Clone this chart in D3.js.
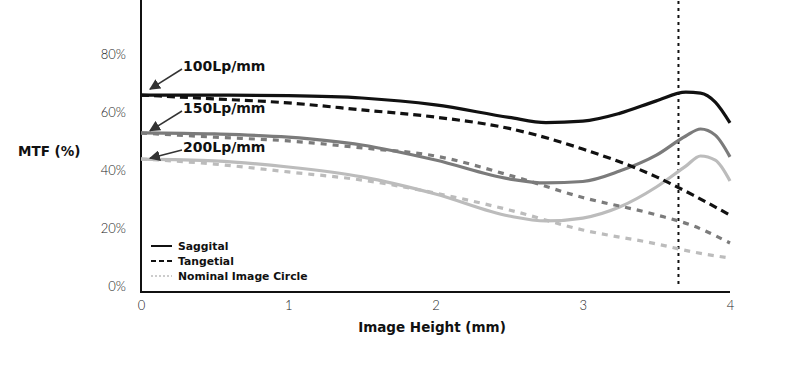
<!DOCTYPE html>
<html>
<head>
<meta charset="utf-8">
<script src="https://cdn.jsdelivr.net/npm/d3@7"></script>
<style>
body{margin:0;background:#fff;}
svg{display:block;font-family:'DejaVu Sans',sans-serif;}
</style>
</head>
<body>
<div class="canvas"></div>
<script>
var width = 800, height = 375;

// data (MTF in %, image height in mm)
var sagX = [0, 0.5, 1, 1.5, 2, 2.5, 2.75, 3, 3.25, 3.5, 3.7, 3.8, 3.9, 4];
var sag100 = [67.9, 67.9, 67.7, 66.9, 64.5, 60.2, 58.4, 58.9, 61.6, 65.9, 68.9, 68.6, 65.5, 58.3];
var sag150 = [54.9, 54.5, 53.4, 50.7, 45.5, 39.0, 37.6, 38.1, 41.7, 47.2, 53.8, 56.2, 54.1, 46.6];
var sag200 = [45.8, 45.2, 43.1, 39.7, 33.8, 26.2, 24.5, 25.5, 29.3, 36.2, 43.4, 46.9, 45.5, 38.3];

var tanX = [0, 0.5, 1, 1.5, 2, 2.5, 3, 3.5, 3.75, 4];
var tan100 = [67.9, 66.6, 65.2, 62.8, 60.3, 56.4, 49.3, 39.7, 33.4, 26.5];
var tan150 = [54.8, 53.4, 52.1, 49.7, 46.9, 40.3, 32.6, 26.6, 22.8, 16.9];
var tan200 = [45.9, 44.1, 41.4, 38.6, 34.1, 28.3, 21.4, 16.6, 13.8, 11.7];

var freqLabels = ['100Lp/mm', '150Lp/mm', '200Lp/mm'];
var freqColors = ['#111', '#7b7b7b', '#bcbcbc'];
var yTicks = [0, 20, 40, 60, 80];
var xTicks = [0, 1, 2, 3, 4];
var imageCircle = 3.65;
var legendLabels = ['Saggital', 'Tangetial', 'Nominal Image Circle'];

var x = d3.scaleLinear().domain([0,4]).range([141,730]);
var y = d3.scaleLinear().domain([0,100]).range([292,2]);

var svg = d3.select('.canvas').append('svg')
    .attr('width',width)
    .attr('height',height);

svg.append('defs').append('marker')
    .attr('id','arrow')
    .attr('viewBox','0 0 10 10')
    .attr('refX',9).attr('refY',5)
    .attr('markerWidth',11).attr('markerHeight',11)
    .attr('markerUnits','userSpaceOnUse')
    .attr('orient','auto')
    .append('path')
    .attr('d','M0,0L10,5L0,10z')
    .style('fill','#333');

// axes
var yAxis = svg.append('g')
    .attr('transform','translate('+x(0)+',0)')
    .call(d3.axisLeft(y).tickValues(yTicks).tickSize(0).tickPadding(15).tickFormat(function(d){return d+'%';}));
yAxis.select('.domain').remove();
yAxis.selectAll('text')
    .attr('dy','-0.12em')
    .style('font-family','Lato')
    .style('font-size','13px')
    .style('font-weight',300)
    .style('fill','#222');

var xAxis = svg.append('g')
    .attr('transform','translate(0,'+y(0)+')')
    .call(d3.axisBottom(x).tickValues(xTicks).tickSize(0).tickPadding(9).tickFormat(d3.format('d')));
xAxis.select('.domain').remove();
xAxis.selectAll('text')
    .style('font-family','Lato')
    .style('font-size','13px')
    .style('font-weight',300)
    .style('fill','#222');

svg.append('line')
    .attr('x1',x(0)).attr('x2',x(0))
    .attr('y1',0).attr('y2',y(0)+1)
    .style('stroke','#111').style('stroke-width',2);
svg.append('line')
    .attr('x1',x(0)-1).attr('x2',x(4))
    .attr('y1',y(0)).attr('y2',y(0))
    .style('stroke','#111').style('stroke-width',2);

// nominal image circle
svg.append('line')
    .attr('x1',x(imageCircle)).attr('x2',x(imageCircle))
    .attr('y1',1).attr('y2',y(0)-4)
    .style('stroke','#111').style('stroke-width',2)
    .style('stroke-dasharray','3,4');

var line = d3.line()
    .x(function(d){return x(d[0]);})
    .y(function(d){return y(d[1]);})
    .curve(d3.curveMonotoneX);

var sagSeries = [sag100, sag150, sag200];
var tanSeries = [tan100, tan150, tan200];

// draw lightest first so black sits on top
for(var i = 2; i >= 0; i--){
    svg.append('path')
        .datum(d3.zip(tanX, tanSeries[i]))
        .attr('d',line)
        .style('fill','none')
        .style('stroke',freqColors[i])
        .style('stroke-width',3.2)
        .style('stroke-dasharray', i==0 ? '8,5' : '6,6');
    svg.append('path')
        .datum(d3.zip(sagX, sagSeries[i]))
        .attr('d',line)
        .style('fill','none')
        .style('stroke',freqColors[i])
        .style('stroke-width',3.2);
}

// frequency labels with arrows
var labelY = [66, 108, 147];
var tipGap = [6, 2, 1];
for(var j = 0; j < 3; j++){
    var y0 = y(sagSeries[j][0]);
    svg.append('line')
        .attr('x1',182).attr('y1',labelY[j]+3)
        .attr('x2',150).attr('y2',y0-tipGap[j])
        .style('stroke','#333').style('stroke-width',1.5)
        .attr('marker-end','url(#arrow)');
    svg.append('text')
        .attr('x',183).attr('y',labelY[j])
        .attr('dy','0.36em')
        .style('font-size','14px')
        .style('font-weight',700)
        .style('fill','#111')
        .text(freqLabels[j]);
}

// axis titles
svg.append('text')
    .attr('x',18).attr('y',156)
    .style('font-size','13.5px').style('font-weight',700).style('fill','#111')
    .text('MTF (%)');
svg.append('text')
    .attr('x',432).attr('y',332)
    .attr('text-anchor','middle')
    .style('font-size','13.5px').style('font-weight',700).style('fill','#111')
    .text('Image Height (mm)');

// legend
var legendDash = [null, '5,3', '2,2'];
var legendWidth = [2, 2, 1];
var legendColor = ['#111', '#111', '#999'];
for(var k = 0; k < 3; k++){
    var ly = 246 + k*15;
    svg.append('line')
        .attr('x1',151).attr('x2',172)
        .attr('y1',ly).attr('y2',ly)
        .style('stroke',legendColor[k])
        .style('stroke-width',legendWidth[k])
        .style('stroke-dasharray',legendDash[k]);
    svg.append('text')
        .attr('x',178).attr('y',ly+4)
        .style('font-size','10.8px').style('font-weight',700).style('fill','#111')
        .text(legendLabels[k]);
}
</script>
</body>
</html>
